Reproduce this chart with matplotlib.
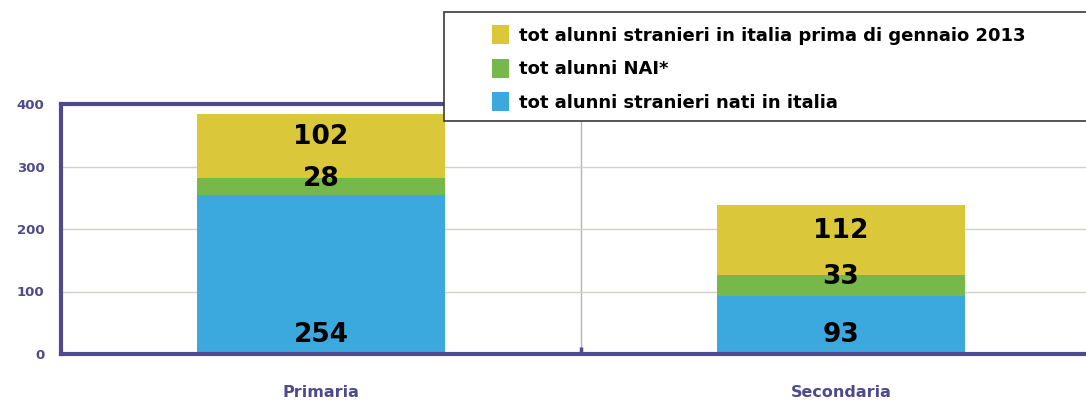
import numpy as np
import matplotlib
matplotlib.use('Agg')
import matplotlib.pyplot as plt
from matplotlib.patches import Rectangle

# data
categories = ['Primaria', 'Secondaria']
nati_italia = [254, 93]
nai = [28, 33]
prima_2013 = [102, 112]
series_labels = ['tot alunni stranieri in italia prima di gennaio 2013',
                 'tot alunni NAI*',
                 'tot alunni stranieri nati in italia']
y_ticks = [0, 100, 200, 300, 400]

purple = '#4f4a8c'
c_yellow = '#dbc73a'
c_green = '#76b84a'
c_blue = '#3ba8de'

plt.rcParams['font.family'] = ['DejaVu Sans']

fig = plt.figure(figsize=(10.86, 4.04), dpi=100)
ax = fig.add_axes([61 / 1086, 50 / 404, 1040 / 1086, 250 / 404])

x = np.arange(len(categories))
w = 0.477
blue = np.array(nati_italia)
green = np.array(nai)
yellow = np.array(prima_2013)

b1 = ax.bar(x, blue, w, color=c_blue, zorder=2)
b2 = ax.bar(x, green, w, bottom=blue, color=c_green, zorder=2)
b3 = ax.bar(x, yellow, w, bottom=blue + green, color=c_yellow, zorder=2)

# value labels
lab = dict(ha='center', va='center', fontsize=19, fontweight='bold', color='black', zorder=3)
for i in range(len(categories)):
    ax.text(x[i], 30, str(blue[i]), **lab)
    ax.text(x[i], blue[i] + green[i] - 2, str(green[i]), **lab)
    ax.text(x[i], blue[i] + green[i] + yellow[i] / 2 + 15, str(yellow[i]), **lab)

ax.set_xlim(-0.5, 1.5)
ax.set_ylim(0, 400)
ax.set_yticks(y_ticks)
ax.tick_params(axis='y', length=0, pad=12, labelsize=9.5, labelcolor=purple)
for t in ax.get_yticklabels():
    t.set_fontweight('bold')
ax.yaxis.grid(True, color='#d3cfcb', lw=1, zorder=0)

# category divider
ax.axvline(0.5, color='#b5b5b5', lw=1, zorder=1)
ax.set_xticks([0.5])
ax.set_xticklabels([''])
ax.tick_params(axis='x', which='major', direction='in', length=5, width=2.5, color=purple)
ax.set_xticks(x, minor=True)
ax.set_xticklabels(categories, minor=True)
ax.tick_params(axis='x', which='minor', length=0, pad=22, labelsize=11.5, labelcolor=purple)
for t in ax.get_xticklabels(minor=True):
    t.set_fontweight('bold')

for s in ['left', 'bottom', 'top', 'right']:
    ax.spines[s].set_color(purple)
    ax.spines[s].set_linewidth(3)

# legend
fig.patches.append(Rectangle((444 / 1086, 1 - 121 / 404), 0.62, 109 / 404,
                             transform=fig.transFigure, facecolor='white',
                             edgecolor='#3a3a3a', lw=1.2, zorder=5))
leg = fig.legend([b3, b2, b1], series_labels, loc='upper left',
                 bbox_to_anchor=(476 / 1086, 1 - 9 / 404), frameon=False,
                 fontsize=13, handlelength=0.9, handleheight=1.25,
                 handletextpad=0.6, labelspacing=0.76)
leg.set_zorder(6)
for t in leg.get_texts():
    t.set_fontweight('bold')

fig.savefig('out.png', dpi=100)
